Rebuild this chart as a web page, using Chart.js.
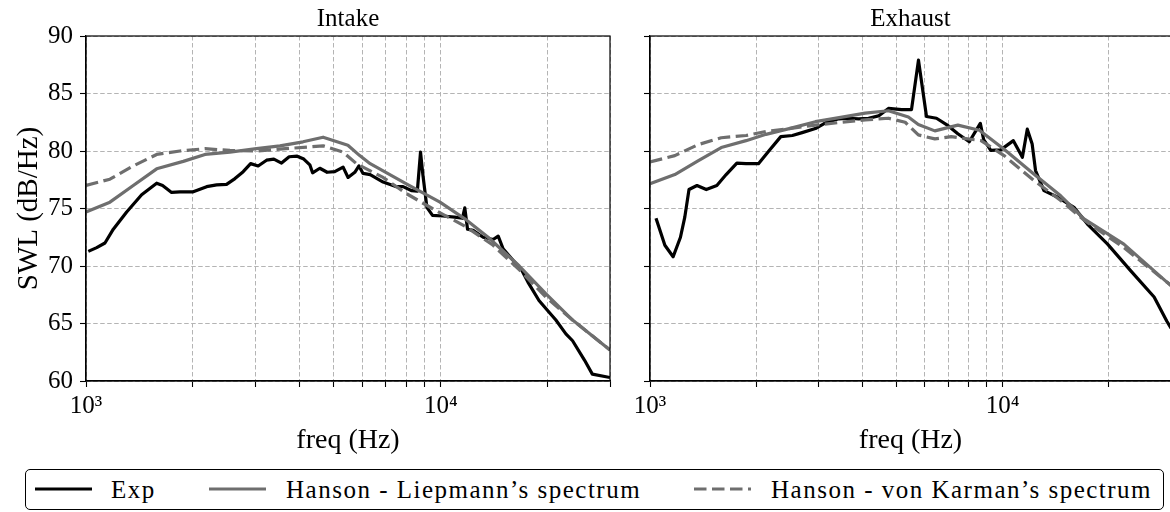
<!DOCTYPE html>
<html>
<head>
<meta charset="utf-8">
<script src="https://cdn.jsdelivr.net/npm/chart.js@4.4.1/dist/chart.umd.min.js"></script>
<style>
  html, body { margin: 0; padding: 0; background: #fff; }
  body { width: 1170px; height: 512px; position: relative; overflow: hidden; font-family: 'Liberation Serif', serif; }
  #intakeBox { position: absolute; left: 0; top: 0; width: 630px; height: 460px; }
  #exhaustBox { position: absolute; left: 610px; top: 0; width: 600px; height: 460px; }
  #legend { position: absolute; left: 25px; top: 469px; width: 1139px; height: 41px; box-sizing: border-box;
            border: 1.3px solid #000; border-radius: 5px; background: #fff; }
  #legend .sample { position: absolute; top: 0; height: 40px; }
  #legend .label { position: absolute; top: 0; line-height: 40px; font-family: 'Liberation Serif', serif; font-size: 25px;
                   color: #000; white-space: nowrap; letter-spacing: 1.5px; }
</style>
</head>
<body>
<div id="intakeBox"><canvas id="intake" width="630" height="460"></canvas></div>
<div id="exhaustBox"><canvas id="exhaust" width="600" height="460"></canvas></div>
<div id="legend"></div>
<script>
// tick values
const xTicks = [1000, 2000, 3000, 4000, 5000, 6000, 7000, 8000, 9000, 10000, 20000, 30000];
const xTickLabels = ['10\u00b3', '', '', '', '', '', '', '', '', '10\u2074', '', ''];
const yTicks = [60, 65, 70, 75, 80, 85, 90];

const seriesNames = ['Exp', 'Hanson - Liepmann\u2019s spectrum', 'Hanson - von Karman\u2019s spectrum'];

// Intake
const intakeExpFreq = [1015, 1072, 1131, 1194, 1302, 1435, 1582, 1644, 1743, 1840, 2006, 2188, 2335, 2490, 2630, 2774, 2911, 3057, 3228, 3385, 3558, 3739, 3938, 4111, 4275, 4352, 4562, 4784, 5025, 5306, 5480, 5725, 5880, 6040, 6325, 6880, 7500, 7830, 8285, 8590, 8770, 8900, 9140, 9480, 10140, 10940, 11510, 11690, 11900, 12340, 13170, 14050, 14520, 14990, 15990, 16880, 17610, 18920, 19980, 21110, 22530, 23530, 25440, 26750, 30000];
const intakeExp = [71.27, 71.6, 72.0, 73.2, 74.7, 76.2, 77.2, 77.0, 76.4, 76.45, 76.45, 76.9, 77.05, 77.1, 77.6, 78.2, 78.9, 78.7, 79.2, 79.3, 78.95, 79.5, 79.55, 79.3, 78.8, 78.1, 78.5, 78.15, 78.2, 78.6, 77.7, 78.15, 78.7, 78.05, 77.95, 77.3, 76.9, 76.9, 76.55, 76.5, 79.9, 78.0, 75.1, 74.4, 74.35, 74.25, 74.15, 75.05, 73.2, 73.1, 72.5, 72.3, 72.6, 71.5, 70.5, 69.7, 68.6, 67.0, 66.15, 65.3, 64.1, 63.5, 61.8, 60.6, 60.3];
const intakeLiepFreq = [1000, 1168, 1359, 1582, 1880, 2165, 2545, 3025, 3522, 4090, 4660, 5473, 5910, 6325, 8000, 9950, 11690, 13600, 16650, 19770, 23530, 30000];
const intakeLiep = [74.7, 75.55, 77.0, 78.45, 79.1, 79.7, 79.9, 80.2, 80.45, 80.8, 81.2, 80.5, 79.6, 78.9, 77.15, 75.55, 74.1, 72.5, 70.0, 67.6, 65.3, 62.7];
const intakeKarmFreq = [1000, 1168, 1359, 1582, 1840, 2165, 2545, 3025, 3650, 4660, 5306, 5786, 6880, 8000, 9710, 11800, 14050, 16880, 19770, 23530, 30000];
const intakeKarm = [77.0, 77.55, 78.7, 79.7, 80.0, 80.2, 80.05, 80.0, 80.2, 80.45, 79.9, 78.9, 77.7, 76.3, 74.8, 73.4, 71.8, 69.5, 67.3, 65.3, 62.7];

// Exhaust
const exhaustExpFreq = [1040, 1102, 1163, 1220, 1255, 1290, 1359, 1444, 1547, 1644, 1763, 1872, 2030, 2178, 2349, 2533, 2700, 2944, 3143, 3430, 3660, 3905, 4165, 4445, 4742, 5170, 5513, 5770, 6080, 6490, 7000, 7460, 8040, 8640, 8830, 9250, 9870, 10720, 11370, 11740, 12120, 12390, 13090, 14280, 15920, 17380, 19830, 23040, 26870, 29200, 30000];
const exhaustExp = [74.15, 71.8, 70.8, 72.5, 74.25, 76.65, 77.0, 76.65, 77.0, 77.95, 78.95, 78.9, 78.9, 80.05, 81.25, 81.35, 81.6, 81.95, 82.45, 82.8, 82.85, 82.8, 82.85, 83.05, 83.7, 83.6, 83.6, 87.9, 83.0, 82.85, 82.2, 81.5, 80.8, 82.4, 81.0, 80.05, 80.1, 80.9, 79.45, 81.9, 80.6, 78.3, 76.55, 76.0, 75.1, 73.65, 71.9, 69.6, 67.3, 65.2, 64.6];
const exhaustLiepFreq = [1000, 1176, 1368, 1592, 1872, 2132, 2481, 2944, 3504, 4075, 4742, 5402, 5765, 6420, 7460, 8590, 10090, 12250, 14600, 17000, 22050, 29200, 30000];
const exhaustLiep = [77.15, 77.95, 79.15, 80.3, 80.9, 81.45, 81.95, 82.55, 82.95, 83.3, 83.5, 82.95, 82.3, 81.75, 82.25, 81.8, 80.15, 78.0, 76.1, 74.1, 71.9, 68.6, 68.3];
const exhaustKarmFreq = [1000, 1176, 1368, 1592, 1872, 2132, 2481, 2944, 3504, 4075, 4742, 5290, 5765, 6420, 7140, 8680, 10090, 12250, 14600, 17000, 22050, 29200, 30000];
const exhaustKarm = [79.05, 79.6, 80.55, 81.15, 81.35, 81.7, 81.95, 82.25, 82.5, 82.7, 82.85, 82.5, 81.4, 81.05, 81.25, 80.9, 79.6, 77.45, 75.7, 74.0, 71.6, 68.6, 68.3];

const FONT = 'Liberation Serif';
const GRAY = '#6e6e6e';
const LW = 3.2;
const DASH = [12.5, 5.5];

function pts(freq, vals) {
  return freq.map((f, i) => ({ x: f, y: vals[i] }));
}

// frame on all four sides + subplot title
const framePlugin = {
  id: 'frame',
  afterDraw(chart, args, opts) {
    const { ctx, chartArea: a } = chart;
    ctx.save();
    ctx.strokeStyle = '#000';
    ctx.lineWidth = 1.2;
    ctx.strokeRect(a.left, a.top, a.right - a.left, a.bottom - a.top);
    ctx.fillStyle = '#000';
    ctx.font = '25px "' + FONT + '"';
    ctx.textAlign = 'center';
    ctx.textBaseline = 'alphabetic';
    ctx.fillText(opts.text, (a.left + a.right) / 2, 26);
    ctx.restore();
  }
};

function gridOpts() {
  return { color: '#b4b4b4', lineWidth: 1, tickColor: '#000', tickLength: 6, tickWidth: 1.1 };
}

function makeChart(id, title, exp, liep, karm, opts) {
  return new Chart(document.getElementById(id), {
    type: 'line',
    data: {
      datasets: [
        { label: seriesNames[0], data: exp, borderColor: '#000', borderWidth: LW, order: 3 },
        { label: seriesNames[1], data: liep, borderColor: GRAY, borderWidth: LW, order: 2 },
        { label: seriesNames[2], data: karm, borderColor: GRAY, borderWidth: LW, borderDash: DASH, order: 1 }
      ]
    },
    options: {
      responsive: false,
      animation: false,
      events: [],
      elements: { point: { radius: 0 }, line: { tension: 0, borderJoinStyle: 'round', fill: false } },
      layout: { padding: { top: 36, right: opts.padRight, left: 0, bottom: 0 } },
      plugins: { legend: { display: false }, tooltip: { enabled: false }, frame: { text: title } },
      scales: {
        x: {
          type: 'logarithmic', min: 1000, max: 30000,
          afterBuildTicks: s => { s.ticks = xTicks.map(v => ({ value: v })); },
          afterFit: s => { s.height = 79; },
          ticks: { autoSkip: false, maxRotation: 0, minRotation: 0, padding: 4, color: '#000',
                   font: { family: FONT, size: 25 }, callback: (v, i) => xTickLabels[i] },
          grid: gridOpts(),
          border: { color: '#000', width: 1.2, dash: [4.5, 2.5] },
          title: { display: true, text: 'freq (Hz)', color: '#000', font: { family: FONT, size: 28 }, padding: { top: 0, bottom: 3 } }
        },
        y: {
          min: 60, max: 90,
          afterBuildTicks: s => { s.ticks = yTicks.map(v => ({ value: v })); },
          afterFit: s => { s.width = opts.yWidth; },
          ticks: { padding: 7, color: '#000', font: { family: FONT, size: 25 },
                   callback: v => opts.yLabels ? String(v) : '' },
          grid: gridOpts(),
          border: { color: '#000', width: 1.2, dash: [4.5, 2.5] },
          title: { display: opts.yLabels, text: 'SWL (dB/Hz)', color: '#000', font: { family: FONT, size: 29 }, padding: { top: 12, bottom: 0 } }
        }
      }
    },
    plugins: [framePlugin]
  });
}

makeChart('intake', 'Intake',
  pts(intakeExpFreq, intakeExp), pts(intakeLiepFreq, intakeLiep), pts(intakeKarmFreq, intakeKarm),
  { padRight: 20, yWidth: 86, yLabels: true });
makeChart('exhaust', 'Exhaust',
  pts(exhaustExpFreq, exhaustExp), pts(exhaustLiepFreq, exhaustLiep), pts(exhaustKarmFreq, exhaustKarm),
  { padRight: 39, yWidth: 40, yLabels: false });

// shared legend below both panels
const legendItems = [
  { name: seriesNames[0], color: '#000', dash: '', lineX: 9, textX: 85 },
  { name: seriesNames[1], color: GRAY, dash: '', lineX: 183, textX: 260 },
  { name: seriesNames[2], color: GRAY, dash: DASH.join(' '), lineX: 668, textX: 745 }
];
const legend = document.getElementById('legend');
legendItems.forEach(it => {
  const svg = document.createElementNS('http://www.w3.org/2000/svg', 'svg');
  svg.setAttribute('class', 'sample');
  svg.setAttribute('width', '58');
  svg.setAttribute('height', '40');
  svg.style.left = it.lineX + 'px';
  const ln = document.createElementNS('http://www.w3.org/2000/svg', 'line');
  ln.setAttribute('x1', '0'); ln.setAttribute('x2', '57');
  ln.setAttribute('y1', '19'); ln.setAttribute('y2', '19');
  ln.setAttribute('stroke', it.color);
  ln.setAttribute('stroke-width', LW);
  if (it.dash) ln.setAttribute('stroke-dasharray', it.dash);
  svg.appendChild(ln);
  legend.appendChild(svg);
  const lab = document.createElement('div');
  lab.className = 'label';
  lab.style.left = it.textX + 'px';
  lab.textContent = it.name;
  legend.appendChild(lab);
});
</script>
</body>
</html>
